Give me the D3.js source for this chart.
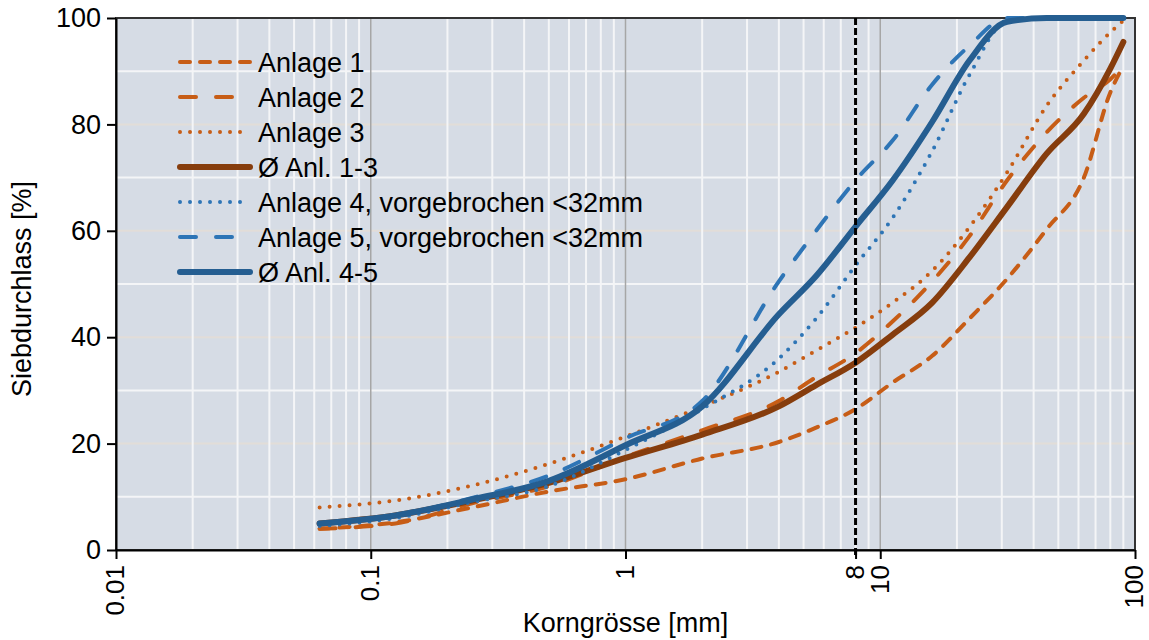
<!DOCTYPE html>
<html>
<head>
<meta charset="utf-8">
<script src="https://cdn.jsdelivr.net/npm/d3@7/dist/d3.min.js"></script>
<style>
    body { margin: 0; background: #fff; }
    svg text { font-family: "Liberation Sans", Arial, sans-serif; fill: #000; }
</style>
</head>
<body>
<div id="chart"></div>
<script>
// Sieve sizes [mm] and passing percentages
const sieveSizes = [0.063, 0.125, 0.25, 0.5, 1, 2, 4, 5.6, 8, 11.2, 16, 22.4, 31.5, 45, 63, 80, 90];

const anlage1 = [4, 5.2, 8, 11, 13.3, 17.2, 20.3, 23, 26.5, 31.5, 36.5, 43.5, 51, 60.3, 70, 86, 91];
const anlage2 = [4, 5, 8.8, 12, 17.5, 22.5, 28, 32.5, 37, 43, 50.5, 59, 69.5, 78.5, 85, 88.5, 91];
const anlage3 = [8, 9.3, 12.1, 16.2, 21.3, 27, 33.5, 37.5, 41.8, 46.5, 52.5, 60.7, 71, 83.5, 92, 97.3, 99.5];
const mittel13 = [5, 6.5, 9.3, 12.6, 17.3, 21.7, 27, 31, 35.2, 40.5, 46.5, 55, 64.5, 74.5, 82, 90.5, 95.5];
const anlage4 = [4.5, 6, 9, 12, 18.8, 26.5, 36, 43.5, 53.5, 62.5, 75, 89.3, 99.5, 100, 100, 100, 100];
const anlage5 = [5, 6.5, 9.8, 14, 21, 28, 50.5, 60, 69.5, 77, 87.5, 94.8, 100, 100, 100, 100, 100];
const mittel45 = [5, 6.5, 9.5, 13, 19.7, 27, 44.3, 51.5, 60.8, 69.5, 80.5, 92, 99.3, 100, 100, 100, 100];

const seriesNames = [
    "Anlage 1", "Anlage 2", "Anlage 3", "Ø Anl. 1-3",
    "Anlage 4, vorgebrochen <32mm", "Anlage 5, vorgebrochen <32mm", "Ø Anl. 4-5"
];
const seriesValues = [anlage1, anlage2, anlage3, mittel13, anlage4, anlage5, mittel45];

const xTickValues = [0.01, 0.1, 1, 8, 10, 100];
const yTickValues = [0, 20, 40, 60, 80, 100];
const limitSize = 8;

// line styles per series
const orange = "#c75d16", brown = "#863d0d", blue = "#2e75b6", darkBlue = "#255e91";
const seriesStyles = [
    { color: orange, width: 4, dash: "10,10" },
    { color: orange, width: 4, dash: "16,20" },
    { color: orange, width: 4, dash: "0,10" },
    { color: brown, width: 6, dash: null },
    { color: blue, width: 4, dash: "0,10" },
    { color: blue, width: 4, dash: "16,20" },
    { color: darkBlue, width: 6, dash: null }
];

const margin = { top: 18, right: 14, bottom: 90, left: 116 };
const width = 1149 - margin.left - margin.right;
const height = 640 - margin.top - margin.bottom;

const svg = d3.select("#chart")
    .append("svg")
    .attr("width", 1149)
    .attr("height", 640)
    .append("g")
    .attr("transform", `translate(${margin.left},${margin.top})`);

const x = d3.scaleLog().domain([0.01, 100]).range([0, width]);
const y = d3.scaleLinear().domain([0, 100]).range([height, 0]);

// Plot background
svg.append("rect")
    .attr("width", width)
    .attr("height", height)
    .attr("fill", "#d6dce5");

// Horizontal grid: white at odd tens, faint at even tens
const hGrid = d3.range(10, 100, 10);
svg.append("g")
    .selectAll("line")
    .data(hGrid)
    .enter()
    .append("line")
    .attr("x1", 0)
    .attr("x2", width)
    .attr("y1", d => y(d))
    .attr("y2", d => y(d))
    .attr("stroke", d => d % 20 === 0 ? "#e2ddd8" : "#f4f5f7")
    .attr("stroke-width", 2);

// Vertical grid: minor white, decades grey
const minorX = [];
[0.01, 0.1, 1, 10].forEach(dec => {
    for (let k = 2; k <= 9; k++) minorX.push(dec * k);
});
svg.append("g")
    .selectAll("line")
    .data(minorX)
    .enter()
    .append("line")
    .attr("x1", d => x(d))
    .attr("x2", d => x(d))
    .attr("y1", 0)
    .attr("y2", height)
    .attr("stroke", "#f4f5f7")
    .attr("stroke-width", 2);

svg.append("g")
    .selectAll("line")
    .data([0.1, 1, 10])
    .enter()
    .append("line")
    .attr("x1", d => x(d))
    .attr("x2", d => x(d))
    .attr("y1", 0)
    .attr("y2", height)
    .attr("stroke", "#a6a6a6")
    .attr("stroke-width", 1.5);

// Frame
svg.append("rect")
    .attr("width", width)
    .attr("height", height)
    .attr("fill", "none")
    .attr("stroke", "#333")
    .attr("stroke-width", 2);

// Curves
const line = d3.line()
    .x(d => x(d[0]))
    .y(d => y(d[1]))
    .curve(d3.curveMonotoneX);

seriesValues.forEach((vals, i) => {
    const st = seriesStyles[i];
    svg.append("path")
        .datum(sieveSizes.map((s, j) => [s, vals[j]]))
        .attr("fill", "none")
        .attr("stroke", st.color)
        .attr("stroke-width", st.width)
        .attr("stroke-linecap", "round")
        .attr("stroke-linejoin", "round")
        .attr("stroke-dasharray", st.dash)
        .attr("d", line);
});

// Limit line at 8 mm
svg.append("line")
    .attr("x1", x(limitSize))
    .attr("x2", x(limitSize))
    .attr("y1", 0)
    .attr("y2", height + 5)
    .attr("stroke", "#000")
    .attr("stroke-width", 3)
    .attr("stroke-dasharray", "7,3");

// Y axis
const yAxis = svg.append("g")
    .call(d3.axisLeft(y).tickValues(yTickValues).tickSize(9).tickSizeOuter(0).tickPadding(6));
yAxis.select(".domain").attr("stroke", "#000").attr("stroke-width", 2);
yAxis.selectAll(".tick line").attr("stroke", "#000").attr("stroke-width", 2);
yAxis.selectAll("text")
    .style("font-size", "27px")
    .style("font-family", "'Liberation Sans', Arial, sans-serif");

// X axis
const xAxis = svg.append("g")
    .attr("transform", `translate(0,${height})`)
    .call(d3.axisBottom(x).tickValues(xTickValues).tickFormat(d => String(d)).tickSize(9).tickSizeOuter(0));
xAxis.select(".domain").attr("stroke", "#000").attr("stroke-width", 2);
xAxis.selectAll(".tick line").attr("stroke", "#000").attr("stroke-width", 2);
xAxis.selectAll("text")
    .attr("transform", "rotate(-90)")
    .attr("x", -15)
    .attr("y", 0)
    .attr("dy", "0.3em")
    .style("text-anchor", "end")
    .style("font-size", "26px")
    .style("font-family", "'Liberation Sans', Arial, sans-serif");

// Axis titles
svg.append("text")
    .attr("transform", `translate(${31 - margin.left},${height / 2 + 5}) rotate(-90)`)
    .attr("text-anchor", "middle")
    .style("font-size", "27px")
    .text("Siebdurchlass [%]");

svg.append("text")
    .attr("x", width / 2)
    .attr("y", height + 82)
    .attr("text-anchor", "middle")
    .style("font-size", "27px")
    .text("Korngrösse [mm]");

// Legend
const legend = svg.append("g")
    .attr("transform", `translate(${180 - margin.left},${62 - margin.top})`);

seriesNames.forEach((name, i) => {
    const st = seriesStyles[i];
    const row = legend.append("g").attr("transform", `translate(0,${i * 35})`);
    row.append("line")
        .attr("x1", 0)
        .attr("x2", 70)
        .attr("stroke", st.color)
        .attr("stroke-width", st.width)
        .attr("stroke-linecap", "round")
        .attr("stroke-dasharray", st.dash);
    row.append("text")
        .attr("x", 78)
        .attr("dy", "0.36em")
        .style("font-size", "27px")
        .text(name);
});
</script>
</body>
</html>
